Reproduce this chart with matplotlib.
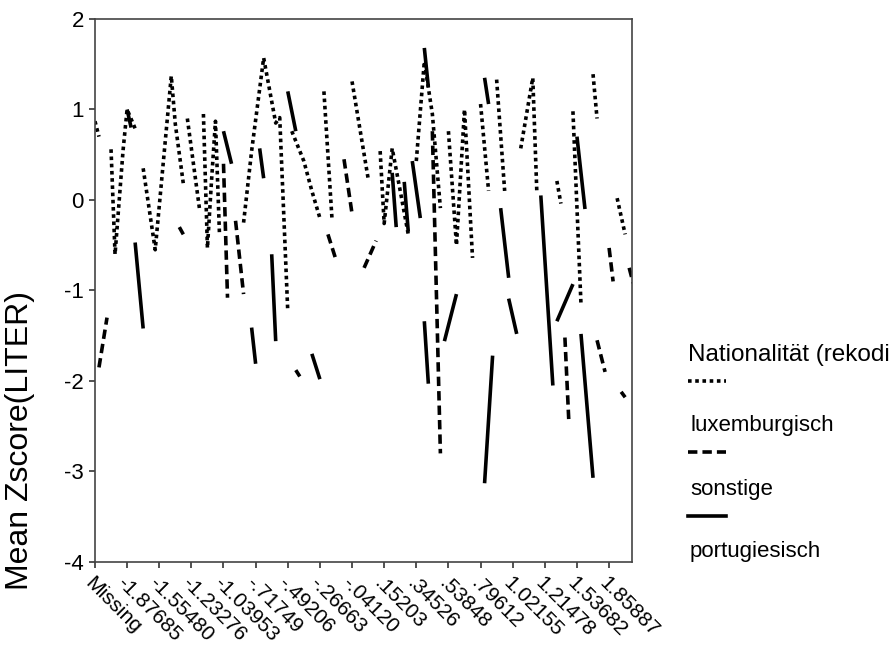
import numpy as np
import matplotlib

matplotlib.use("Agg")
import matplotlib.pyplot as plt  # noqa: E402
from matplotlib.lines import Line2D  # noqa: E402

plt.rcParams["font.family"] = ["Liberation Sans", "DejaVu Sans"]
plt.rcParams["axes.unicode_minus"] = False

nan = np.nan

# Kategorien (nur jede 8. ist beschriftet)
n_categories = 134
tick_labels = ["Missing", "-1.87685", "-1.55480", "-1.23276", "-1.03953", "-.71749",
               "-.49206", "-.26663", "-.04120", ".15203", ".34526", ".53848",
               ".79612", "1.02155", "1.21478", "1.53682", "1.85887"]
series_names = ["luxemburgisch", "sonstige", "portugiesisch"]

# luxemburgisch (gepunktet) -- Kategorie-Index / Mittelwert, nan = Lücke
lux_x = [0, 1, nan, 4, 5, 7, 8, 10, nan, 12, 15, 19, 20, 22, nan, 23, 26, nan,
         27, 28, 29, 30, 31, nan, 37, 39, 42, 45, 46, 48, nan, 49, 52, 54, 56, nan,
         57, 59, nan, 64, 68, nan, 71, 72, 74, 76, 78, nan, 80, 82, 84, 86, nan,
         88, 90, 92, 94, nan, 96, 98, nan, 100, 102, nan, 106, 109, 110, nan,
         115, 116, nan, 119, 121, nan, 124, 125, nan, 130, 132]
lux_y = [0.87, 0.70, nan, 0.56, -0.60, 0.55, 1.00, 0.79, nan, 0.35, -0.55, 1.37, 0.84, 0.18, nan, 0.90, -0.09, nan,
         0.95, -0.53, 0.20, 0.87, -0.38, nan, -0.25, 0.54, 1.57, 0.85, 0.91, -1.23, nan, 0.76, 0.43, 0.10, -0.20, nan,
         1.20, -0.20, nan, 1.31, 0.24, nan, 0.54, -0.26, 0.57, 0.10, -0.38, nan, 0.43, 1.53, 0.95, -0.09, nan,
         0.76, -0.50, 1.00, -0.64, nan, 1.06, 0.10, nan, 1.33, 0.10, nan, 0.57, 1.35, 0.10, nan,
         0.21, -0.04, nan, 0.98, -1.15, nan, 1.39, 0.90, nan, 0.02, -0.38]

# sonstige (gestrichelt)
son_x = [1, 3, nan, 21, 22, nan, 32, 33, nan, 35, 37, nan, 50, 51, nan, 58, 60, nan,
         62, 64, nan, 67, 70, nan, 84, 86, nan, 117, 118, nan, 125, 127, nan,
         128, 129, nan, 131, 132, nan, 133, 134]
son_y = [-1.85, -1.30, nan, -0.30, -0.38, nan, 0.40, -1.08, nan, -0.23, -1.04, nan, -1.88, -1.95, nan, -0.38, -0.66, nan,
         0.45, -0.15, nan, -0.75, -0.45, nan, 0.76, -2.80, nan, -1.52, -2.47, nan, -1.55, -1.90, nan,
         -0.53, -0.90, nan, -2.12, -2.18, nan, -0.75, -0.92]

# portugiesisch (durchgezogen)
por_x = [8, 9, nan, 10, 12, nan, 32, 34, nan, 39, 40, nan, 41, 42, nan, 44, 45, nan,
         48, 50, nan, 54, 56, nan, 74, 75, nan, 77, 78, nan, 79, 81, nan, 82, 83, nan,
         82, 83, nan, 87, 90, nan, 97, 98, nan, 101, 103, nan, 103, 105, nan, 97, 99, nan,
         111, 114, nan, 115, 119, nan, 120, 122, nan, 121, 124]
por_y = [1.00, 0.80, nan, -0.47, -1.42, nan, 0.76, 0.40, nan, -1.41, -1.81, nan, 0.57, 0.24, nan, -0.60, -1.56, nan,
         1.20, 0.76, nan, -1.70, -1.98, nan, 0.30, -0.30, nan, 0.20, -0.35, nan, 0.43, -0.20, nan, 1.68, 1.25, nan,
         -1.34, -2.03, nan, -1.56, -1.04, nan, 1.35, 1.06, nan, -0.09, -0.86, nan, -1.09, -1.48, nan, -3.13, -1.72, nan,
         0.05, -2.05, nan, -1.34, -0.93, nan, 0.70, -0.10, nan, -1.48, -3.07]

styles = [dict(linestyle=(0, (1, 1))), dict(linestyle=(0, (2.6, 1.4))), dict(linestyle="-")]

fig = plt.figure(figsize=(8.9, 6.54), dpi=100)
ax = fig.add_axes([0.1067, 0.1407, 0.6034, 0.8303])

for (xs, ys), st in zip([(lux_x, lux_y), (son_x, son_y), (por_x, por_y)], styles):
    ax.plot(xs, ys, color="black", linewidth=2.6, solid_capstyle="butt",
            dash_capstyle="butt", **st)

ax.set_xlim(0, n_categories - 0.3)
ax.set_ylim(-4, 2)
ax.set_yticks(range(-4, 3))
ax.set_yticklabels([str(v) for v in range(-4, 3)], fontsize=16)
ax.set_xticks(np.arange(0, 8 * len(tick_labels), 8))
ax.set_xticklabels(tick_labels, rotation=-45, ha="left", va="top",
                   rotation_mode="anchor", fontsize=15)
ax.tick_params(direction="out", length=4, width=1.2, colors="#333333", labelcolor="black", pad=4)
for sp in ax.spines.values():
    sp.set_linewidth(1.2)
    sp.set_color("#444444")

fig.text(0.022, 1 - 440 / 654, "Mean Zscore(LITER)", rotation=90, ha="center", va="center", fontsize=23)

# Legende im SPSS-Stil: Linienmuster über der Beschriftung
fig.text(688 / 890, 1 - 355 / 654, "Nationalität (rekodi", ha="left", va="center", fontsize=17.5)
handle_y = [381, 452, 516]
label_y = [425, 490, 552]
for name, st, hy, ly in zip(series_names, styles, handle_y, label_y):
    fig.add_artist(Line2D([688 / 890, 726 / 890], [1 - hy / 654] * 2, color="black",
                          linewidth=2.6, dash_capstyle="butt", **st))
    fig.text(690 / 890, 1 - ly / 654, name, ha="left", va="center", fontsize=16)

fig.savefig("out.png", dpi=100)
